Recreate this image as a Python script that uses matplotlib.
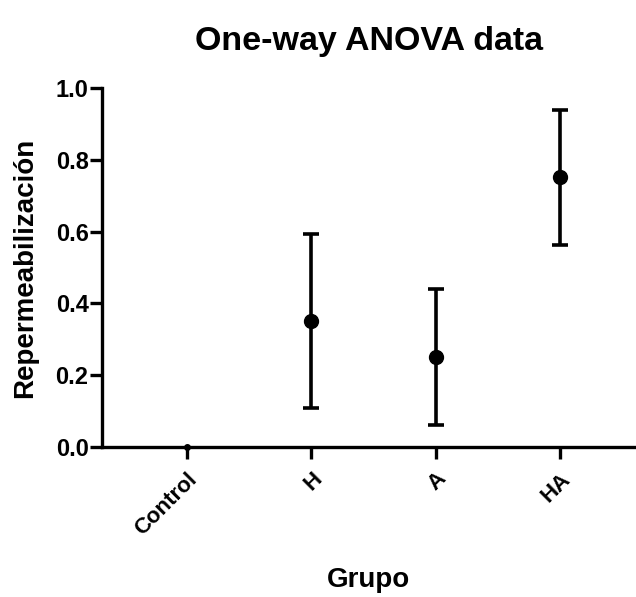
import matplotlib.pyplot as plt
import numpy as np

# Datos
grupos = ["Control", "H", "A", "HA"]
medias = [0.0, 0.35, 0.25, 0.752]
error_arriba = [0.0, 0.243, 0.19, 0.187]
error_abajo = [0.0, 0.241, 0.19, 0.189]

plt.rcParams['font.family'] = ['Liberation Sans', 'DejaVu Sans']

fig = plt.figure(figsize=(6.36, 5.97), dpi=100)
ax = fig.add_axes([0.160, 0.2513, 0.840, 0.6013])

x = np.arange(len(grupos))
ax.errorbar(x[1:], medias[1:], yerr=[error_abajo[1:], error_arriba[1:]],
            fmt='o', color='black', markersize=10, elinewidth=2.6,
            capsize=6, capthick=2.6, clip_on=False, zorder=3)
# el control queda sobre el eje
ax.plot(x[:1], medias[:1], 'o', color='black', markersize=4, clip_on=False, zorder=3)

ax.set_xlim(-0.684, 3.61)
ax.set_ylim(0, 1.0)
ax.set_yticks([0.0, 0.2, 0.4, 0.6, 0.8, 1.0])
ax.set_yticklabels(["0.0", "0.2", "0.4", "0.6", "0.8", "1.0"], fontsize=17, fontweight='bold')
ax.set_xticks(x)
ax.set_xticklabels(grupos, rotation=45, ha='right', rotation_mode='anchor',
                   fontsize=16, fontweight='bold')

for lado in ['top', 'right']:
    ax.spines[lado].set_visible(False)
for lado in ['left', 'bottom']:
    ax.spines[lado].set_linewidth(2.4)
ax.tick_params(axis='y', width=2.4, length=8.5, pad=1)
ax.tick_params(axis='x', width=2.4, length=8.5, pad=7)

ax.set_title("One-way ANOVA data", fontsize=24.5, fontweight='bold', pad=27)
ax.set_ylabel("Repermeabilización", fontsize=20, fontweight='bold')
ax.set_xlabel("Grupo", fontsize=20, fontweight='bold')
ax.yaxis.set_label_coords(-0.12, 0.5)
ax.xaxis.set_label_coords(0.5, -0.335)

fig.savefig("out.png", dpi=100)
